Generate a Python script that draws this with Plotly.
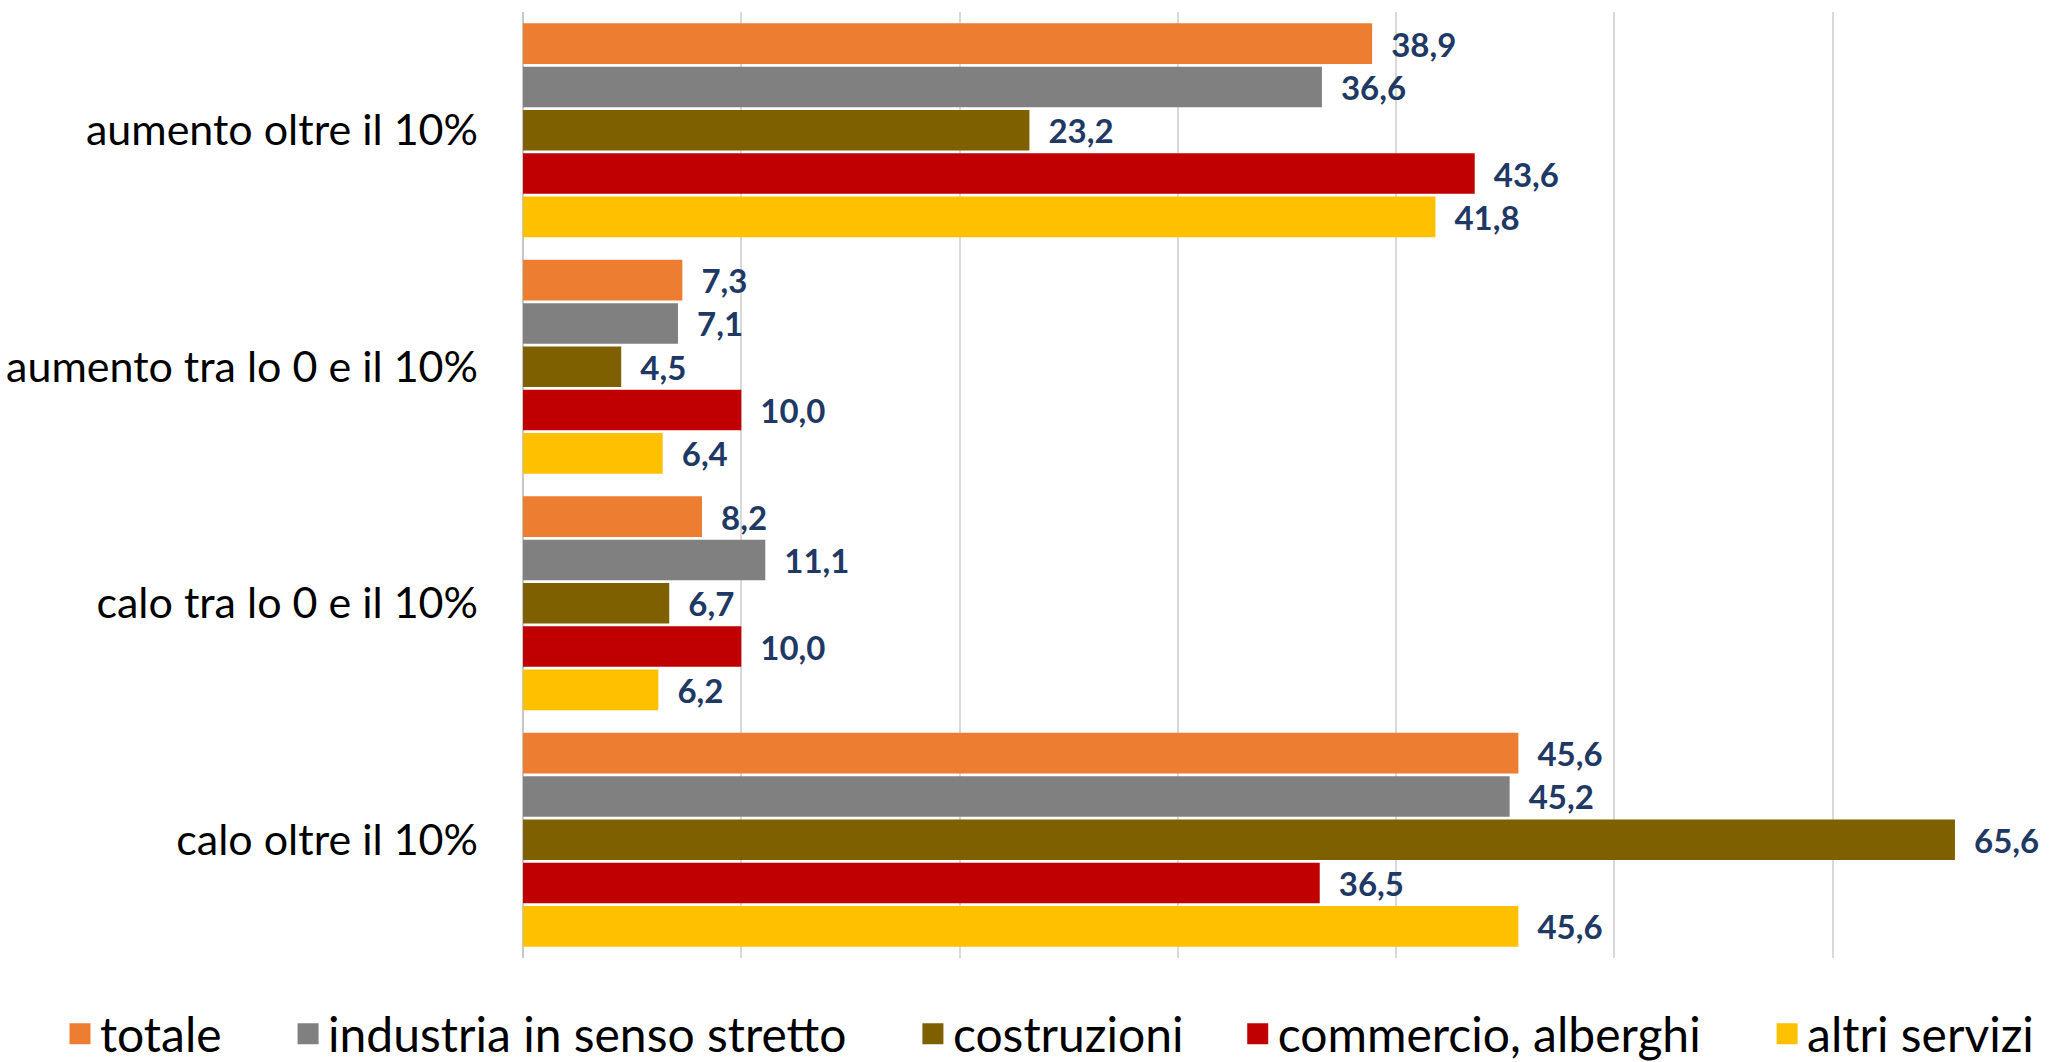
import plotly.graph_objects as go

categorie = ["aumento oltre il 10%", "aumento tra lo 0 e il 10%",
             "calo tra lo 0 e il 10%", "calo oltre il 10%"]

settori = ["totale", "industria in senso stretto", "costruzioni",
           "commercio, alberghi", "altri servizi"]

totale = [38.9, 7.3, 8.2, 45.6]
industria = [36.6, 7.1, 11.1, 45.2]
costruzioni = [23.2, 4.5, 6.7, 65.6]
commercio = [43.6, 10.0, 10.0, 36.5]
altri_servizi = [41.8, 6.4, 6.2, 45.6]

colori = ["#ED7D31", "#808080", "#7F6000", "#C00000", "#FFC000"]

FONT = "Lato"
NBSP = "\u00a0"
W, H = 2051, 1062

fig = go.Figure()

serie = [totale, industria, costruzioni, commercio, altri_servizi]
for nome, valori, colore in zip(settori, serie, colori):
    fig.add_trace(go.Bar(
        y=categorie,
        x=valori,
        name=nome,
        orientation="h",
        marker=dict(color=colore, line=dict(width=0)),
        texttemplate="  %{x:.1f}",
        textposition="outside",
        cliponaxis=False,
        textfont=dict(family=FONT, size=33, color="#203864", weight="bold"),
        showlegend=False,
    ))

# voci di legenda con quadratini più grandi (spazi per distanziare le voci)
spazi = [5, 5, 4, 5, 0]
for nome, colore, n in zip(settori, colori, spazi):
    fig.add_trace(go.Scatter(
        x=[None], y=[None], mode="markers", name=nome + NBSP * n,
        marker=dict(symbol="square", size=16, color=colore,
                    line=dict(color=colore, width=5)),
    ))

fig.update_layout(
    width=W,
    height=H,
    barmode="group",
    bargap=0.085,
    bargroupgap=0.06,
    separators=",.",
    plot_bgcolor="white",
    paper_bgcolor="white",
    # l=0 + dominio dell'asse x: la legenda può usare tutta la larghezza
    margin=dict(l=0, r=0, t=12, b=104),
    font=dict(family=FONT, color="#000000"),
    legend=dict(
        orientation="h",
        xref="paper",
        x=60 / W,
        xanchor="left",
        yref="container",
        y=28 / H,
        yanchor="middle",
        font=dict(family=FONT, size=48, color="#000000"),
        itemwidth=30,
        traceorder="normal",
    ),
    xaxis=dict(
        domain=[523 / W, 1],
        range=[0, 70],
        dtick=10,
        showticklabels=False,
        showgrid=True,
        gridcolor="#D9D9D9",
        gridwidth=1.5,
        zeroline=True,
        zerolinecolor="#C8C8C8",
        zerolinewidth=2,
        ticks="",
    ),
    yaxis=dict(
        autorange="reversed",
        tickfont=dict(family=FONT, size=43, color="#000000"),
        ticklabelstandoff=44,
        showgrid=False,
        ticks="",
    ),
)

fig.write_html(
    "out.html",
    config={"displayModeBar": False},
    post_script="document.body.style.margin='0';document.body.style.overflow='hidden';",
)
